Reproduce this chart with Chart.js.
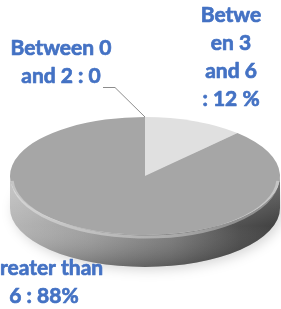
<!DOCTYPE html>
<html>
<head>
<meta charset="utf-8">
<script src="https://cdn.jsdelivr.net/npm/chart.js@4/dist/chart.umd.min.js"></script>
<style>
  html, body { margin: 0; padding: 0; background: #fff; }
  #wrap { width: 281px; height: 309px; }
</style>
</head>
<body>
<div id="wrap"><canvas id="c" width="281" height="309"></canvas></div>
<script>
const categories = ['Between 0 and 2', 'Between 3 and 6', 'Greater than 6'];
const shares = [0, 12, 88];
const labelLines = [
  ['Between 0', 'and 2 : 0'],
  ['Betwe', 'en 3', 'and 6', ': 12 %'],
  ['Greater than', '6 : 88%'],
];
const sliceColors = ['#bfbfbf', '#e0e0e0', '#a6a6a6'];

// where the labels sit (centre x, first baseline y)
const labelPos = [[61, 55], [231, 22], [44, 275]];
const LINE_H = 28;

const TILT = 0.437;   // ry / rx of the top face
const DEPTH = 32;     // thickness of the disc
const CY = 176;       // screen y of the top face centre

function geom(chart) {
  const arc = chart.getDatasetMeta(0).data[0];
  const rx = arc.outerRadius;
  return { x0: arc.x, y0: arc.y, cx: arc.x, cy: CY, rx, ry: rx * TILT };
}

const pie3d = {
  id: 'pie3d',
  beforeDatasetsDraw(chart) {
    const ctx = chart.ctx;
    const g = geom(chart);

    // soft shadow under the disc
    ctx.save();
    ctx.filter = 'blur(6px)';
    ctx.fillStyle = 'rgba(0,0,0,0.16)';
    ctx.beginPath();
    ctx.ellipse(g.cx + 3, g.cy + DEPTH + 3, g.rx, g.ry, 0, 0, Math.PI * 2);
    ctx.fill();
    ctx.restore();

    // side walls, only the front half is visible
    chart.getDatasetMeta(0).data.forEach(el => {
      const s = Math.max(el.startAngle, 0);
      const e = Math.min(el.endAngle, Math.PI);
      if (e <= s) return;
      const path = () => {
        ctx.beginPath();
        ctx.ellipse(g.cx, g.cy, g.rx, g.ry, 0, s, e);
        ctx.ellipse(g.cx, g.cy + DEPTH, g.rx, g.ry, 0, e, s, true);
        ctx.closePath();
      };
      const hg = ctx.createLinearGradient(g.cx - g.rx, 0, g.cx + g.rx, 0);
      hg.addColorStop(0, '#b2b2b2');
      hg.addColorStop(0.3, '#9a9a9a');
      hg.addColorStop(0.6, '#767676');
      hg.addColorStop(0.85, '#464646');
      hg.addColorStop(1, '#363636');
      path();
      ctx.fillStyle = hg;
      ctx.fill();
      const vg = ctx.createLinearGradient(0, g.cy, 0, g.cy + g.ry + DEPTH);
      vg.addColorStop(0, 'rgba(255,255,255,0.30)');
      vg.addColorStop(0.55, 'rgba(255,255,255,0.05)');
      vg.addColorStop(1, 'rgba(0,0,0,0.25)');
      path();
      ctx.fillStyle = vg;
      ctx.fill();
    });

    // squash the round pie into the top face ellipse
    ctx.save();
    ctx.translate(g.cx, g.cy);
    ctx.scale(1, TILT);
    ctx.translate(-g.x0, -g.y0);
  },
  afterDatasetsDraw(chart) {
    const ctx = chart.ctx;
    ctx.restore();
    const g = geom(chart);

    // bevel highlight on the front rim
    ctx.save();
    ctx.strokeStyle = 'rgba(255,255,255,0.35)';
    ctx.lineWidth = 3;
    ctx.beginPath();
    ctx.ellipse(g.cx, g.cy + 2, g.rx - 2, g.ry, 0, 0.05, Math.PI - 0.05);
    ctx.stroke();
    ctx.restore();

    // leader line for the empty slice
    const zero = chart.getDatasetMeta(0).data[0];
    const tx = g.cx + g.rx * Math.cos(zero.startAngle);
    const ty = g.cy + g.ry * Math.sin(zero.startAngle);
    ctx.save();
    ctx.strokeStyle = '#8c8c8c';
    ctx.lineWidth = 1;
    ctx.beginPath();
    ctx.moveTo(103, 87.5);
    ctx.lineTo(115, 87.5);
    ctx.lineTo(tx, ty);
    ctx.stroke();

    // data labels (thin stroke to get closer to the heavier original face)
    ctx.fillStyle = '#4472c4';
    ctx.strokeStyle = '#4472c4';
    ctx.lineWidth = 0.7;
    ctx.lineJoin = 'round';
    ctx.font = 'bold 21px Lato';
    ctx.textAlign = 'center';
    ctx.textBaseline = 'alphabetic';
    labelLines.forEach((lines, i) => {
      const [lx, ly] = labelPos[i];
      lines.forEach((t, k) => {
        ctx.fillText(t, lx, ly + k * LINE_H);
        ctx.strokeText(t, lx, ly + k * LINE_H);
      });
    });
    ctx.restore();
  }
};

new Chart(document.getElementById('c'), {
  type: 'pie',
  data: {
    labels: categories,
    datasets: [{
      data: shares,
      backgroundColor: sliceColors,
      borderWidth: 0,
    }],
  },
  options: {
    responsive: false,
    animation: false,
    layout: { padding: { left: 10, right: 1, top: 0, bottom: 0 } },
    plugins: {
      legend: { display: false },
      tooltip: { enabled: false },
    },
  },
  plugins: [pie3d],
});
</script>
</body>
</html>
